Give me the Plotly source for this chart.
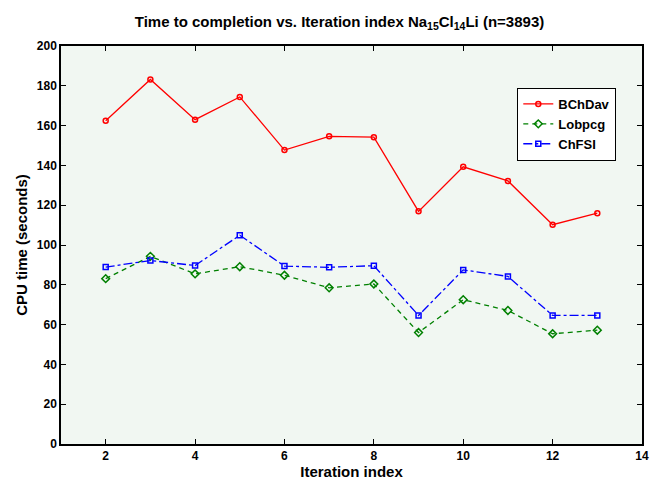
import plotly.graph_objects as go

iterations = [2, 3, 4, 5, 6, 7, 8, 9, 10, 11, 12, 13]
bchdav = [162.4, 183.2, 163.0, 174.4, 147.7, 154.6, 154.2, 116.9, 139.3, 132.2, 110.2, 116.0]
lobpcg = [83.1, 94.3, 85.5, 89.1, 84.8, 78.5, 80.4, 56.0, 72.5, 67.1, 55.4, 57.2]
chfsi = [88.9, 92.2, 89.7, 104.9, 89.4, 88.8, 89.6, 64.6, 87.5, 84.2, 64.6, 64.6]
x_ticks = [2, 4, 6, 8, 10, 12, 14]
y_ticks = [0, 20, 40, 60, 80, 100, 120, 140, 160, 180, 200]

FONT = "Liberation Sans"

fig = go.Figure()
fig.add_trace(go.Scatter(
    x=iterations, y=bchdav, name="<b>BChDav</b>", mode="lines+markers",
    line=dict(color="#ff0000", width=1.3, dash="solid"),
    marker=dict(symbol="circle-open", size=5, color="#ff0000", line=dict(width=1.5)),
))
fig.add_trace(go.Scatter(
    x=iterations, y=lobpcg, name="<b>Lobpcg</b>", mode="lines+markers",
    line=dict(color="#008000", width=1.3, dash="5px,4px"),
    marker=dict(symbol="diamond-open", size=6, color="#008000", line=dict(width=1.5)),
))
fig.add_trace(go.Scatter(
    x=iterations, y=chfsi, name="<b>ChFSI</b>", mode="lines+markers",
    line=dict(color="#0000ff", width=1.3, dash="dashdot"),
    marker=dict(symbol="square-open", size=5, color="#0000ff", line=dict(width=1.5)),
))

axis_common = dict(
    showline=True, linecolor="black", linewidth=1.5, mirror="ticks",
    ticks="inside", ticklen=5, tickwidth=1, tickcolor="black",
    showgrid=False, zeroline=False,
    tickfont=dict(family=FONT, size=12, color="black"),
)

fig.update_layout(
    width=663, height=479,
    margin=dict(l=53, r=29, t=38, b=32),
    paper_bgcolor="white",
    plot_bgcolor="#f1f7f2",
    title=dict(
        text="<b>Time to completion vs. Iteration index Na<sub>15</sub>Cl<sub>14</sub>Li (n=3893)</b>",
        x=0.5, xanchor="center", y=0.972, yanchor="middle",
        font=dict(family=FONT, size=15, color="black"),
    ),
    xaxis=dict(
        range=[1, 14], tickvals=x_ticks, ticktext=[f"<b>{v}</b>" for v in x_ticks],
        title=dict(text="<b>Iteration index</b>", font=dict(family=FONT, size=15, color="black"), standoff=1),
        **axis_common,
    ),
    yaxis=dict(
        range=[0, 200], tickvals=y_ticks, ticktext=[f"<b>{v}</b>" for v in y_ticks],
        title=dict(text="<b>CPU time (seconds)</b>", font=dict(family=FONT, size=15, color="black"), standoff=6),
        **axis_common,
    ),
    legend=dict(
        x=0.785, y=0.895, xanchor="left", yanchor="top",
        bgcolor="white", bordercolor="black", borderwidth=1.2,
        font=dict(family=FONT, size=13, color="black"),
        itemwidth=30, tracegroupgap=0,
    ),
    showlegend=True,
)

fig.write_html("out.html")
